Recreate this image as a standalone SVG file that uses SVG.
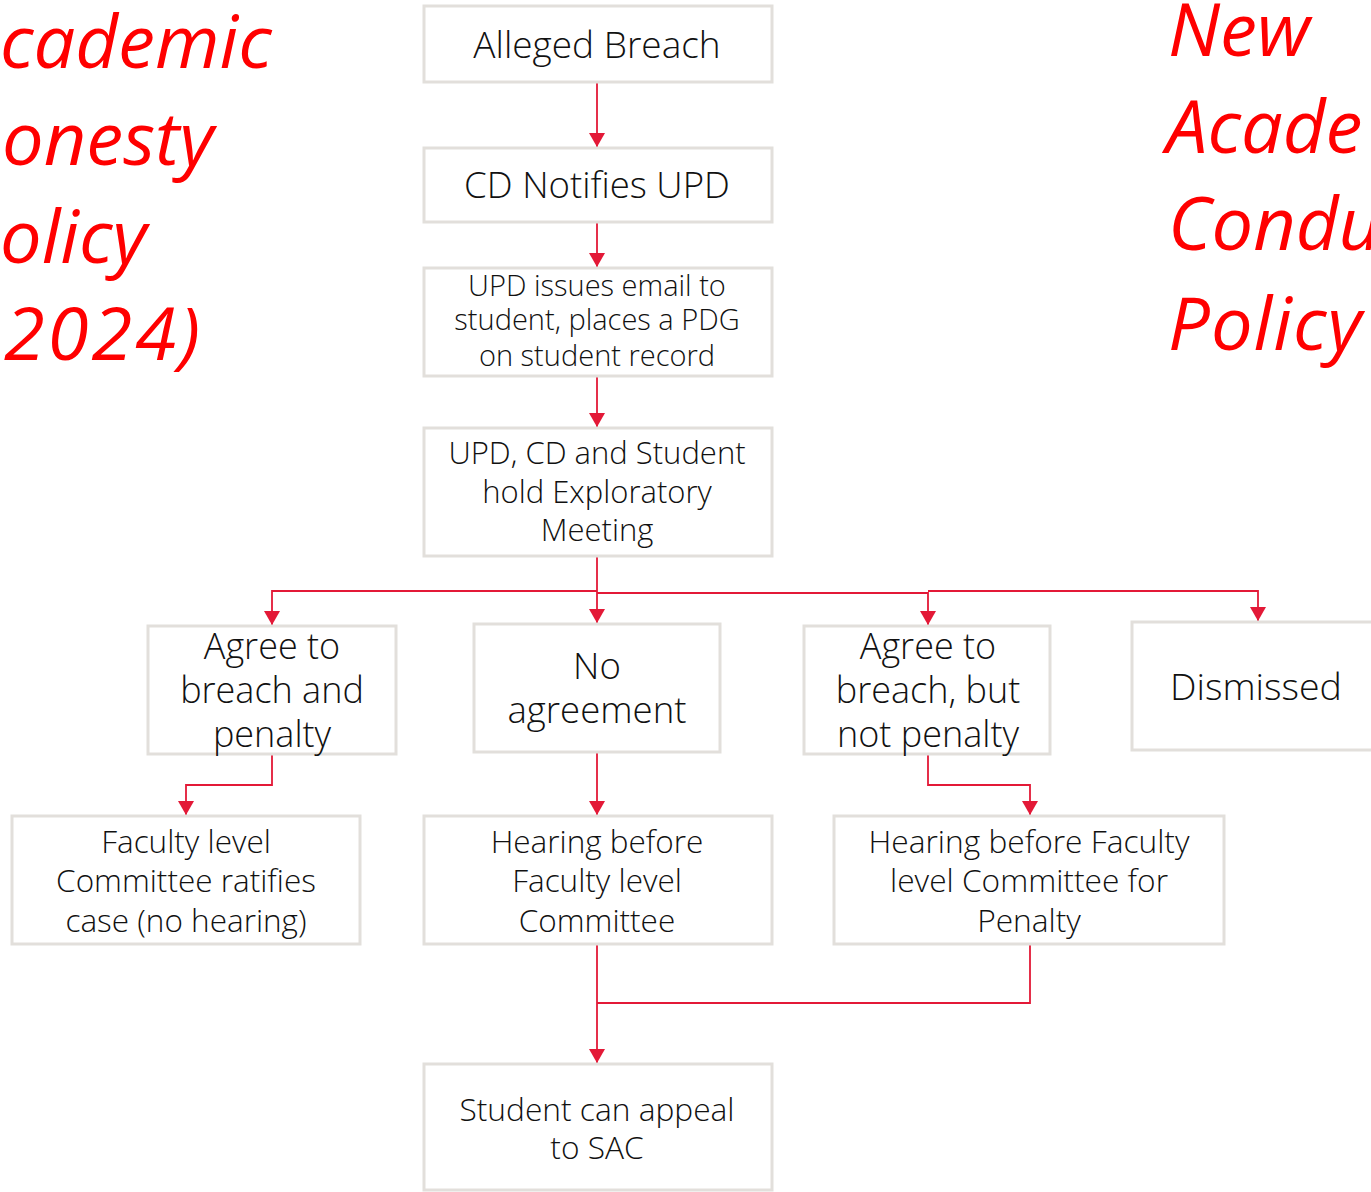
<svg xmlns="http://www.w3.org/2000/svg" width="1371" height="1192" viewBox="0 0 1371 1192">
<defs>
<style>
.box{fill:#fff;stroke:#e2dfdb;stroke-width:3}
.t{font-family:"Open Sans","Noto Sans",sans-serif;font-weight:300;fill:#111;text-anchor:middle}
.title{font-family:"Open Sans","Noto Sans",sans-serif;font-style:italic;font-weight:400;fill:#ff0000;font-size:74px}
.c{fill:none;stroke:#e31937;stroke-width:1.8}
</style>
<marker id="ah" markerWidth="14" markerHeight="16" viewBox="0 0 14 16" refX="14" refY="8" orient="auto" markerUnits="userSpaceOnUse">
<path d="M0,0 L14,8 L0,16 Z" fill="#e31937"/>
</marker>
</defs>
<rect width="1371" height="1192" fill="#fff"/>
<g id="titles">
<text class="title" x="0" y="68">cademic</text>
<text class="title" x="2" y="165">onesty</text>
<text class="title" x="0" y="263">olicy</text>
<text class="title" x="4" y="360" letter-spacing="3">2024)</text>
<text class="title" x="1168" y="56">New</text>
<text class="title" x="1166" y="153">Acade</text>
<text class="title" x="1168" y="250">Condu</text>
<text class="title" x="1168" y="350" letter-spacing="1">Policy</text>
</g>
<g id="connectors">
<path class="c" d="M597,82 V147" marker-end="url(#ah)"/>
<path class="c" d="M597,222 V267" marker-end="url(#ah)"/>
<path class="c" d="M597,376 V427" marker-end="url(#ah)"/>
<path class="c" d="M597,556 V623" marker-end="url(#ah)"/>
<path class="c" d="M597,591 H272 V625" marker-end="url(#ah)"/>
<path class="c" d="M597,593 H928 V625" marker-end="url(#ah)"/>
<path class="c" d="M928,591 H1258 V621" marker-end="url(#ah)"/>
<path class="c" d="M272,754 V785 H186 V815" marker-end="url(#ah)"/>
<path class="c" d="M597,752 V815" marker-end="url(#ah)"/>
<path class="c" d="M928,754 V785 H1030 V815" marker-end="url(#ah)"/>
<path class="c" d="M597,944 V1063" marker-end="url(#ah)"/>
<path class="c" d="M1030,944 V1003 H597"/>
</g>
<g id="n1"><rect class="box" x="424" y="6" width="348" height="76"/><text class="t" x="597" y="58" font-size="37">Alleged Breach</text></g>
<g id="n2"><rect class="box" x="424" y="148" width="348" height="74"/><text class="t" x="597" y="198" font-size="36.6">CD Notifies UPD</text></g>
<g id="n3"><rect class="box" x="424" y="268" width="348" height="108"/><text class="t" font-size="29"><tspan x="597" y="296">UPD issues email to</tspan><tspan x="597" y="330">student, places a PDG</tspan><tspan x="597" y="366">on student record</tspan></text></g>
<g id="n4"><rect class="box" x="424" y="428" width="348" height="128"/><text class="t" font-size="31"><tspan x="597" y="464">UPD, CD and Student</tspan><tspan x="597" y="503">hold Exploratory</tspan><tspan x="597" y="541">Meeting</tspan></text></g>
<g id="n5"><rect class="box" x="148" y="626" width="248" height="128"/><text class="t" font-size="36"><tspan x="272" y="659">Agree to</tspan><tspan x="272" y="703">breach and</tspan><tspan x="272" y="747">penalty</tspan></text></g>
<g id="n6"><rect class="box" x="474" y="624" width="246" height="128"/><text class="t" font-size="36.6"><tspan x="597" y="679">No</tspan><tspan x="597" y="723">agreement</tspan></text></g>
<g id="n7"><rect class="box" x="804" y="626" width="246" height="128"/><text class="t" font-size="36"><tspan x="928" y="659">Agree to</tspan><tspan x="928" y="703">breach, but</tspan><tspan x="928" y="747">not penalty</tspan></text></g>
<g id="n8"><rect class="box" x="1132" y="622" width="250" height="128"/><text class="t" x="1256" y="700" font-size="37.5">Dismissed</text></g>
<g id="n9"><rect class="box" x="12" y="816" width="348" height="128"/><text class="t" font-size="31.5"><tspan x="186" y="853">Faculty level</tspan><tspan x="186" y="892">Committee ratifies</tspan><tspan x="186" y="932">case (no hearing)</tspan></text></g>
<g id="n10"><rect class="box" x="424" y="816" width="348" height="128"/><text class="t" font-size="31.5"><tspan x="597" y="853">Hearing before</tspan><tspan x="597" y="892">Faculty level</tspan><tspan x="597" y="932">Committee</tspan></text></g>
<g id="n11"><rect class="box" x="834" y="816" width="390" height="128"/><text class="t" font-size="31.7"><tspan x="1029" y="853">Hearing before Faculty</tspan><tspan x="1029" y="892">level Committee for</tspan><tspan x="1029" y="932">Penalty</tspan></text></g>
<g id="n12"><rect class="box" x="424" y="1064" width="348" height="126"/><text class="t" font-size="31.7"><tspan x="597" y="1121">Student can appeal</tspan><tspan x="597" y="1159">to SAC</tspan></text></g>
</svg>
